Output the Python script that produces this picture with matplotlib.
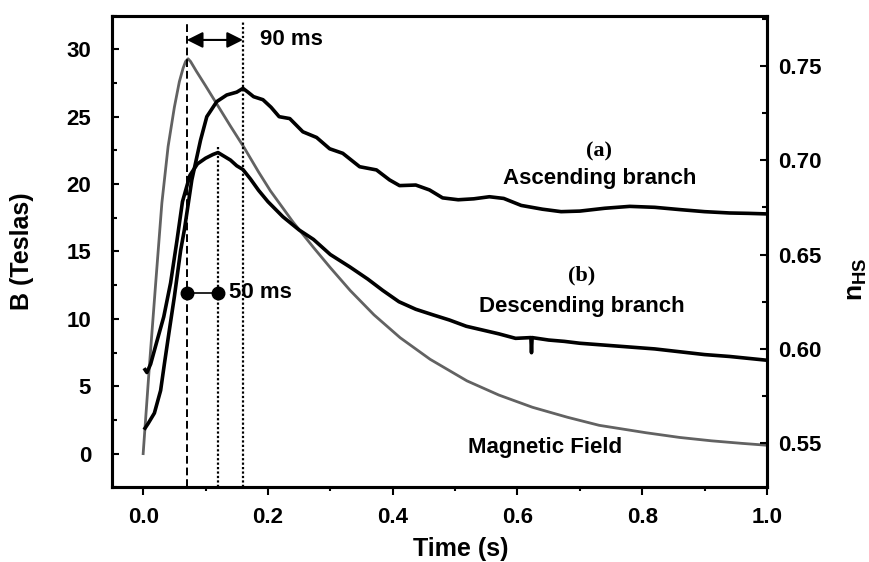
import matplotlib
matplotlib.use("Agg")
import matplotlib.pyplot as plt
from matplotlib.ticker import MultipleLocator, FormatStrFormatter

plt.rcParams['font.family'] = ['Liberation Sans', 'DejaVu Sans']
plt.rcParams['font.weight'] = 'bold'
plt.rcParams['axes.labelweight'] = 'bold'
plt.rcParams['mathtext.fontset'] = 'custom'
plt.rcParams['mathtext.rm'] = 'Liberation Sans:bold'
plt.rcParams['mathtext.bf'] = 'Liberation Sans:bold'

# magnetic field pulse (left axis, Teslas)
t_field = [0.000, 0.010, 0.020, 0.030, 0.040, 0.050, 0.058, 0.064, 0.068, 0.072,
           0.076, 0.085, 0.100, 0.120, 0.140, 0.162, 0.185, 0.204, 0.240, 0.273,
           0.300, 0.332, 0.370, 0.412, 0.460, 0.519, 0.570, 0.624, 0.680, 0.731,
           0.806, 0.860, 0.911, 0.960, 1.000]
b_field = [0.0, 6.5, 12.6, 18.6, 22.8, 25.7, 27.6, 28.6, 29.1, 29.3,
           29.1, 28.4, 27.3, 25.8, 24.3, 22.7, 20.9, 19.5, 17.2, 15.3,
           13.8, 12.1, 10.3, 8.6, 7.0, 5.4, 4.35, 3.44, 2.7, 2.1,
           1.55, 1.2, 0.95, 0.76, 0.62]

# (a) ascending branch, n_HS (right axis)
t_asc = [0.003, 0.008, 0.018, 0.028, 0.034, 0.042, 0.050, 0.060, 0.066, 0.078,
         0.092, 0.102, 0.118, 0.134, 0.150, 0.160, 0.168, 0.177, 0.192, 0.205,
         0.218, 0.235, 0.256, 0.278, 0.299, 0.320, 0.347, 0.374, 0.395, 0.411,
         0.437, 0.459, 0.480, 0.505, 0.530, 0.555, 0.578, 0.606, 0.640, 0.670,
         0.700, 0.740, 0.780, 0.820, 0.860, 0.900, 0.940, 0.970, 1.000]
n_asc = [0.558, 0.5605, 0.566, 0.578, 0.592, 0.610, 0.6276, 0.652, 0.663, 0.6895,
         0.7106, 0.723, 0.731, 0.7345, 0.736, 0.738, 0.736, 0.7336, 0.732, 0.728,
         0.723, 0.722, 0.715, 0.712, 0.706, 0.7036, 0.6965, 0.6948, 0.6895, 0.6865,
         0.6868, 0.6842, 0.680, 0.679, 0.6795, 0.6806, 0.6797, 0.676, 0.674, 0.6727,
         0.673, 0.6745, 0.6755, 0.675, 0.6738, 0.6727, 0.672, 0.6718, 0.6715]

# (b) descending branch, n_HS (right axis)
t_desc = [0.003, 0.006, 0.012, 0.022, 0.033, 0.044, 0.054, 0.063, 0.075, 0.087,
          0.100, 0.112, 0.120, 0.130, 0.140, 0.150, 0.160, 0.172, 0.185, 0.200,
          0.224, 0.250, 0.273, 0.300, 0.331, 0.360, 0.384, 0.410, 0.437, 0.465,
          0.491, 0.518, 0.544, 0.570, 0.597, 0.6215, 0.6225, 0.6235, 0.650, 0.675,
          0.700, 0.740, 0.780, 0.820, 0.860, 0.900, 0.940, 0.970, 1.000]
n_desc = [0.589, 0.5875, 0.592, 0.604, 0.617, 0.635, 0.657, 0.678, 0.692, 0.698,
          0.701, 0.703, 0.704, 0.702, 0.700, 0.697, 0.695, 0.690, 0.684, 0.678,
          0.670, 0.663, 0.658, 0.650, 0.6435, 0.637, 0.631, 0.625, 0.621, 0.618,
          0.6153, 0.612, 0.610, 0.608, 0.6056, 0.606, 0.598, 0.606, 0.6047, 0.604,
          0.603, 0.602, 0.601, 0.600, 0.5985, 0.597, 0.596, 0.595, 0.594]

# marker times (s)
t_peak = 0.07
t_desc_max = 0.12
t_asc_max = 0.16


def main():
    fig = plt.figure(figsize=(8.7, 5.62), dpi=100)
    ax = fig.add_axes([0.1287, 0.1329, 0.7529, 0.8392])
    ax2 = ax.twinx()

    ax.plot(t_field, b_field, color='#626262', lw=2.0)
    ax2.plot(t_asc, n_asc, color='black', lw=2.6)
    ax2.plot(t_desc, n_desc, color='black', lw=2.6)

    # guide lines
    ax.vlines(t_peak, -2.5, 32.0, colors='black', linestyles=(0, (4, 2)), lw=1.4)
    ax.vlines(t_asc_max, -2.5, 32.0, colors='black', linestyles=(0, (1, 1)), lw=1.6)
    ax.vlines(t_desc_max, -2.5, 22.8, colors='black', linestyles=(0, (1, 1)), lw=1.6)

    ax.annotate('', xy=(t_peak, 30.7), xytext=(t_asc_max, 30.7),
                arrowprops=dict(arrowstyle='<|-|>,head_length=0.8,head_width=0.4',
                                color='black', lw=1.5, shrinkA=0, shrinkB=0,
                                mutation_scale=12))
    ax.text(0.187, 30.7, '90 ms', fontsize=16, fontweight='bold',
            ha='left', va='center')

    ax.plot([t_peak, t_desc_max], [11.92, 11.92], color='black', lw=1.2,
            marker='o', ms=9)
    ax.text(0.137, 11.92, '50 ms', fontsize=16, fontweight='bold',
            ha='left', va='center')

    ax.text(0.730, 22.44, '(a)', family='Liberation Serif', fontsize=16,
            fontweight='bold', ha='center', va='center')
    ax.text(0.732, 20.44, 'Ascending branch', fontsize=16, fontweight='bold',
            ha='center', va='center')
    ax.text(0.703, 13.24, '(b)', family='Liberation Serif', fontsize=16,
            fontweight='bold', ha='center', va='center')
    ax.text(0.703, 10.94, 'Descending branch', fontsize=16, fontweight='bold',
            ha='center', va='center')
    ax.text(0.6446, 0.47, 'Magnetic Field', fontsize=16, fontweight='bold',
            ha='center', va='center')

    # axes
    ax.set_xlim(-0.05, 1.0)
    ax.set_ylim(-2.5, 32.5)
    ax2.set_ylim(0.5267, 0.7765)

    ax.xaxis.set_major_locator(MultipleLocator(0.2))
    ax.xaxis.set_minor_locator(MultipleLocator(0.1))
    ax.xaxis.set_major_formatter(FormatStrFormatter('%.1f'))
    ax.yaxis.set_major_locator(MultipleLocator(5))
    ax.yaxis.set_minor_locator(MultipleLocator(2.5))
    ax2.yaxis.set_major_locator(MultipleLocator(0.05))
    ax2.yaxis.set_minor_locator(MultipleLocator(0.025))
    ax2.yaxis.set_major_formatter(FormatStrFormatter('%.2f'))

    ax.tick_params(axis='x', which='major', direction='out', length=6, width=1.5,
                   pad=8, labelsize=16)
    ax.tick_params(axis='x', which='minor', direction='out', length=3, width=1.5)
    ax.tick_params(axis='y', which='major', direction='in', length=5, width=1.5,
                   pad=15, labelsize=16)
    ax.tick_params(axis='y', which='minor', direction='in', length=3.5, width=1.5)
    ax2.tick_params(axis='y', which='major', direction='in', length=5, width=1.5,
                    pad=8, labelsize=16)
    ax2.tick_params(axis='y', which='minor', direction='in', length=3.5, width=1.5)

    for a in (ax, ax2):
        for s in a.spines.values():
            s.set_linewidth(2.2)

    ax.set_xlabel('Time (s)', fontsize=18, fontweight='bold')
    ax.xaxis.set_label_coords(0.533, -0.105)
    ax.set_ylabel('B (Teslas)', fontsize=18, fontweight='bold')
    ax.yaxis.set_label_coords(-0.119, 0.5)
    ax2.set_ylabel(r'n$_{\rm HS}$', fontsize=19, fontweight='bold')
    ax2.yaxis.set_label_coords(1.119, 0.442)

    fig.savefig('out.png', dpi=100)


if __name__ == "__main__":
    main()
